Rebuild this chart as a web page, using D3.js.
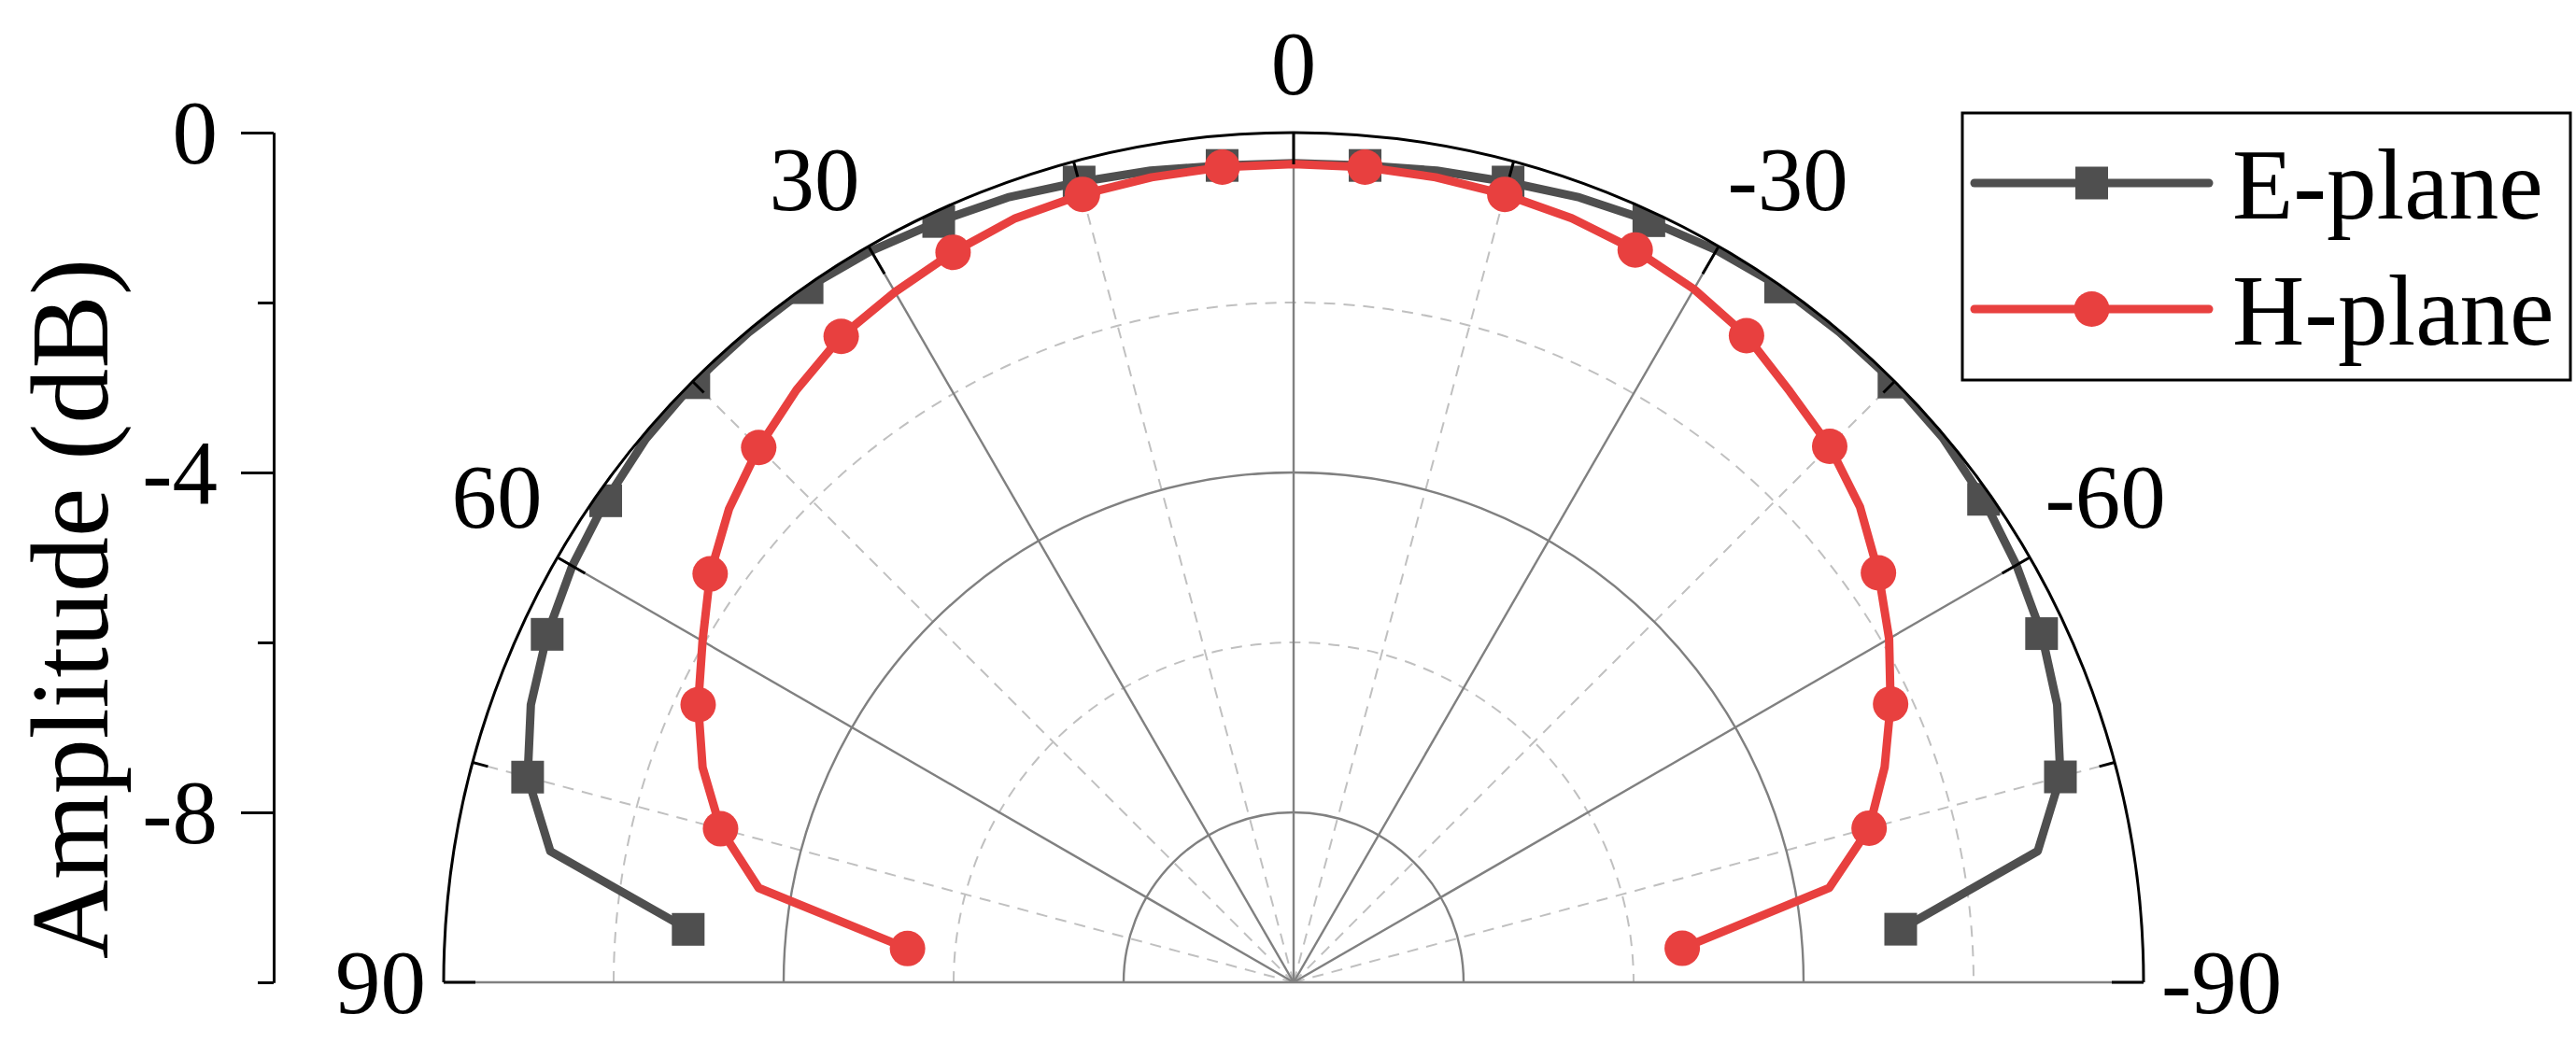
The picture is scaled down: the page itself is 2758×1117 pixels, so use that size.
<!DOCTYPE html>
<html>
<head>
<meta charset="utf-8">
<script src="https://cdn.jsdelivr.net/npm/d3@7"></script>
<style>
  html, body { margin: 0; padding: 0; background: #ffffff; }
  svg { display: block; }
  text { font-family: "Liberation Serif", "Times New Roman", serif; fill: #000; }
</style>
</head>
<body>
<svg id="chart" width="2758" height="1117"></svg>
<script>
// ---- data ----
const angles = [-85, -80, -75, -70, -65, -60, -55, -50, -45, -40, -35, -30, -25, -20, -15, -10, -5, 0,
                5, 10, 15, 20, 25, 30, 35, 40, 45, 50, 55, 60, 65, 70, 75, 80, 85];
const ePlane = [-2.83, -1.11, -0.66, -0.44, -0.29, -0.18, -0.09, -0.03, -0.01, -0.01, -0.01, -0.05,
                -0.11, -0.17, -0.25, -0.30, -0.35, -0.36, -0.35, -0.30, -0.25, -0.17, -0.12, -0.06,
                -0.02, -0.02, -0.02, -0.05, -0.12, -0.20, -0.31, -0.45, -0.67, -1.12, -2.85];
const hPlane = [-5.41, -3.60, -2.99, -2.60, -2.25, -1.91, -1.60, -1.30, -1.08, -0.92, -0.71, -0.58,
                -0.49, -0.43, -0.40, -0.38, -0.37, -0.37, -0.37, -0.38, -0.40, -0.43, -0.52, -0.62,
                -0.72, -0.90, -1.10, -1.33, -1.62, -1.97, -2.27, -2.60, -3.02, -3.61, -5.44];
const seriesNames = ["E-plane", "H-plane"];
const angleTicksMajor = [-90, -60, -30, 0, 30, 60, 90];
const angleTicksMinor = [-75, -45, -15, 15, 45, 75];
const radialTicksMajor = [0, -4, -8];
const radialTicksMinor = [-2, -6, -10];
const radialDomain = [-10, 0];
const yAxisTitle = "Amplitude (dB)";

// ---- layout ----
const svg = d3.select("#chart");
const cx = 1385, cy = 1052, R = 910;
const fontTick = 97;
const grayC = "#4f4f4f", redC = "#e8403f";

const rScale = d3.scaleLinear().domain(radialDomain).range([0, R]);
const aScale = d3.scaleLinear().domain([-90, 90]).range([Math.PI / 2, -Math.PI / 2]);

const defs = svg.append("defs");
defs.append("clipPath").attr("id", "disk")
  .append("circle").attr("cx", 0).attr("cy", 0).attr("r", R);

const g = svg.append("g").attr("transform", `translate(${cx},${cy})`);

function pt(angleDeg, radius) {
  const a = aScale(angleDeg);
  return [radius * Math.sin(a), -radius * Math.cos(a)];
}
function semiArc(radius) {
  const p = d3.path();
  p.moveTo(-radius, 0);
  p.arc(0, 0, radius, Math.PI, 2 * Math.PI);
  return p.toString();
}

// dashed grid circles (minor radial values except center)
const grid = g.append("g");
grid.selectAll(".dcirc").data(radialTicksMinor.filter(v => v > radialDomain[0]))
  .join("path")
  .attr("d", v => semiArc(rScale(v)))
  .attr("fill", "none").attr("stroke", "#c0c0c0").attr("stroke-width", 2)
  .attr("stroke-dasharray", "12,9");
// dashed radial spokes
grid.selectAll(".dspoke").data(angleTicksMinor).join("line")
  .attr("x1", 0).attr("y1", 0)
  .attr("x2", d => pt(d, R)[0]).attr("y2", d => pt(d, R)[1])
  .attr("stroke", "#c0c0c0").attr("stroke-width", 2).attr("stroke-dasharray", "12,9");
// solid grid circles
grid.selectAll(".scirc").data(radialTicksMajor.filter(v => v < radialDomain[1]))
  .join("path")
  .attr("d", v => semiArc(rScale(v)))
  .attr("fill", "none").attr("stroke", "#808080").attr("stroke-width", 2.4);
// solid radial spokes
grid.selectAll(".sspoke").data(angleTicksMajor).join("line")
  .attr("x1", 0).attr("y1", 0)
  .attr("x2", d => pt(d, R)[0]).attr("y2", d => pt(d, R)[1])
  .attr("stroke", "#808080").attr("stroke-width", 2.4);

// ---- data series ----
const series = [
  { name: seriesNames[0], values: ePlane, color: grayC, marker: "square" },
  { name: seriesNames[1], values: hPlane, color: redC, marker: "circle" }
];
const lineGen = d3.lineRadial()
  .angle(d => aScale(d.angle))
  .radius(d => rScale(d.value));

const dataG = g.append("g").attr("clip-path", "url(#disk)");
series.forEach(s => {
  const pts = angles.map((a, i) => ({ angle: a, value: s.values[i] }));
  const sg = dataG.append("g");
  sg.append("path").datum(pts)
    .attr("d", lineGen)
    .attr("fill", "none").attr("stroke", s.color).attr("stroke-width", 9)
    .attr("stroke-linejoin", "round").attr("stroke-linecap", "round");
  const mk = pts.filter((d, i) => i % 2 === 0);
  if (s.marker === "square") {
    const sz = 35;
    sg.selectAll("rect").data(mk).join("rect")
      .attr("x", d => pt(d.angle, rScale(d.value))[0] - sz / 2)
      .attr("y", d => pt(d.angle, rScale(d.value))[1] - sz / 2)
      .attr("width", sz).attr("height", sz).attr("fill", s.color);
  } else {
    sg.selectAll("circle").data(mk).join("circle")
      .attr("cx", d => pt(d.angle, rScale(d.value))[0])
      .attr("cy", d => pt(d.angle, rScale(d.value))[1])
      .attr("r", 19).attr("fill", s.color);
  }
});

// ---- outer ring and angular ticks ----
g.append("path").attr("d", semiArc(R))
  .attr("fill", "none").attr("stroke", "#000").attr("stroke-width", 3);
g.selectAll(".tmaj").data(angleTicksMajor).join("line")
  .attr("x1", d => pt(d, R)[0]).attr("y1", d => pt(d, R)[1])
  .attr("x2", d => pt(d, R - 34)[0]).attr("y2", d => pt(d, R - 34)[1])
  .attr("stroke", "#000").attr("stroke-width", 3);
g.selectAll(".tmin").data(angleTicksMinor).join("line")
  .attr("x1", d => pt(d, R)[0]).attr("y1", d => pt(d, R)[1])
  .attr("x2", d => pt(d, R - 17)[0]).attr("y2", d => pt(d, R - 17)[1])
  .attr("stroke", "#000").attr("stroke-width", 3);

// angular labels: box corner anchored just outside the ring
const labR = R + 19;
const halfDigit = fontTick * 0.34;
g.selectAll(".alab").data(angleTicksMajor).join("text")
  .attr("font-size", fontTick)
  .attr("x", d => pt(d, labR)[0])
  .attr("y", d => {
    const y = pt(d, labR)[1];
    return Math.abs(d) === 90 ? y + halfDigit : y - 55 + halfDigit;
  })
  .attr("text-anchor", d => d === 0 ? "middle" : (d > 0 ? "end" : "start"))
  .text(d => String(d));

// ---- radial axis on the left ----
const axisX = 293;
const yAxisScale = d3.scaleLinear().domain(radialDomain).range([cy, cy - R]);
const axG = svg.append("g").attr("transform", `translate(${axisX},0)`);
axG.call(d3.axisLeft(yAxisScale).tickValues(radialTicksMajor).tickSize(35)
  .tickSizeOuter(0).tickPadding(25).tickFormat(d => String(d)));
axG.append("g").call(d3.axisLeft(yAxisScale).tickValues(radialTicksMinor).tickSize(17)
  .tickSizeOuter(0).tickFormat(""));
axG.selectAll("path.domain").attr("stroke", "#000").attr("stroke-width", 3);
axG.selectAll(".tick line").attr("stroke", "#000").attr("stroke-width", 3);
axG.selectAll(".tick text").attr("font-size", fontTick)
  .attr("font-family", "Liberation Serif, Times New Roman, serif").attr("fill", "#000")
  .attr("dy", "0.34em");

svg.append("text")
  .attr("transform", "translate(115,652) rotate(-90)")
  .attr("text-anchor", "middle").attr("font-size", 118)
  .text(yAxisTitle);

// ---- legend ----
const lg = svg.append("g");
lg.append("rect").attr("x", 2101).attr("y", 121).attr("width", 651).attr("height", 286)
  .attr("fill", "#fff").attr("stroke", "#000").attr("stroke-width", 3);
series.forEach((s, i) => {
  const ly = 196 + i * 135;
  lg.append("line").attr("x1", 2114).attr("x2", 2365).attr("y1", ly).attr("y2", ly)
    .attr("stroke", s.color).attr("stroke-width", 9).attr("stroke-linecap", "round");
  if (s.marker === "square") {
    lg.append("rect").attr("x", 2239.5 - 17.5).attr("y", ly - 17.5)
      .attr("width", 35).attr("height", 35).attr("fill", s.color);
  } else {
    lg.append("circle").attr("cx", 2239.5).attr("cy", ly).attr("r", 19).attr("fill", s.color);
  }
  lg.append("text").attr("x", 2390).attr("y", ly + 38).attr("font-size", 107).text(s.name);
});
</script>
</body>
</html>
